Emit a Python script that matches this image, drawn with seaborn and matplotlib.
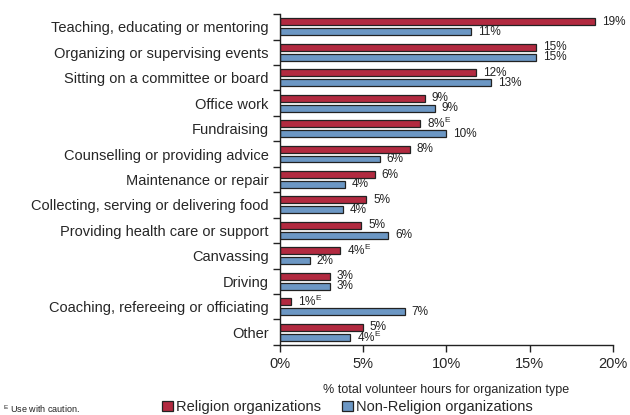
import numpy as np
import pandas as pd
import matplotlib
matplotlib.use("Agg")
import matplotlib.pyplot as plt
import seaborn as sns
from matplotlib.patches import Patch

# data
activities = [
    "Teaching, educating or mentoring",
    "Organizing or supervising events",
    "Sitting on a committee or board",
    "Office work",
    "Fundraising",
    "Counselling or providing advice",
    "Maintenance or repair",
    "Collecting, serving or delivering food",
    "Providing health care or support",
    "Canvassing",
    "Driving",
    "Coaching, refereeing or officiating",
    "Other",
]
religion = [18.9, 15.4, 11.8, 8.7, 8.4, 7.8, 5.7, 5.2, 4.9, 3.6, 3.0, 0.7, 5.0]
non_religion = [11.5, 15.4, 12.7, 9.3, 10.0, 6.0, 3.9, 3.8, 6.5, 1.8, 3.0, 7.5, 4.2]
# printed labels as shown in the source
religion_text = ["19%", "15%", "12%", "9%", "8%", "8%", "6%", "5%", "5%", "4%", "3%", "1%", "5%"]
non_religion_text = ["11%", "15%", "13%", "9%", "10%", "6%", "4%", "4%", "6%", "2%", "3%", "7%", "4%"]
religion_caution = [False, False, False, False, True, False, False, False, False, True, False, True, False]
non_religion_caution = [False] * 12 + [True]
series_names = ["Religion organizations", "Non-Religion organizations"]
colors = ["#B22A40", "#6C97C4"]

df = pd.DataFrame({
    "activity": activities * 2,
    "value": religion + non_religion,
    "org": [series_names[0]] * len(activities) + [series_names[1]] * len(activities),
})

sns.set_style("white")
plt.rcParams["font.family"] = ["Liberation Sans", "DejaVu Sans"]
plt.rcParams["mathtext.fontset"] = "custom"
plt.rcParams["mathtext.rm"] = "Liberation Sans"

fig = plt.figure(figsize=(6.3, 4.15), dpi=100)
ax = fig.add_axes([0.444, 0.169, 0.529, 0.797])

sns.barplot(data=df, y="activity", x="value", hue="org", orient="h",
            palette=colors, saturation=1, width=0.78, gap=0.3,
            edgecolor="#222222", linewidth=0.9, legend=False, ax=ax)


def make_labels(texts, caution):
    return [t + (r"$^{\mathrm{E}}$" if c else "") for t, c in zip(texts, caution)]


ax.bar_label(ax.containers[0], labels=make_labels(religion_text, religion_caution),
             padding=5, fontsize=8.5, color="#222222")
ax.bar_label(ax.containers[1], labels=make_labels(non_religion_text, non_religion_caution),
             padding=5, fontsize=8.5, color="#222222")

ax.set_xlim(0, 20)
ax.set_ylim(len(activities) - 0.5, -0.5)
ax.set_xticks([0, 5, 10, 15, 20])
ax.set_xticklabels(["0%", "5%", "10%", "15%", "20%"], fontsize=10.5)
ax.set_xlabel("% total volunteer hours for organization type", fontsize=9, labelpad=9)
ax.set_ylabel("")

# category labels at group centres, tick marks between groups
ax.set_yticks(np.arange(len(activities) + 1) - 0.5)
ax.set_yticklabels([])
ax.set_yticks(np.arange(len(activities)), minor=True)
ax.set_yticklabels(activities, minor=True, fontsize=10.5)
ax.tick_params(axis="y", which="major", direction="out", length=5, width=1, color="#222222", left=True)
ax.tick_params(axis="y", which="minor", length=0, pad=8)
ax.tick_params(axis="x", direction="out", length=5, width=1, color="#222222", pad=4, bottom=True)

for side in ["top", "right"]:
    ax.spines[side].set_visible(False)
for side in ["left", "bottom"]:
    ax.spines[side].set_color("#222222")
    ax.spines[side].set_linewidth(1)
ax.grid(False)

handles = [Patch(facecolor=c, edgecolor="#222222", linewidth=0.9) for c in colors]
fig.legend(handles, series_names, loc="lower left", bbox_to_anchor=(0.237, -0.03),
           ncol=2, frameon=False, fontsize=10.5, handlelength=0.7, handleheight=0.7,
           handletextpad=0.2, columnspacing=1.5)
fig.text(0.005, 0.006, r"$^{\mathrm{E}}$ Use with caution.", fontsize=6.5, color="#222222")

fig.savefig("out.png", dpi=100)
